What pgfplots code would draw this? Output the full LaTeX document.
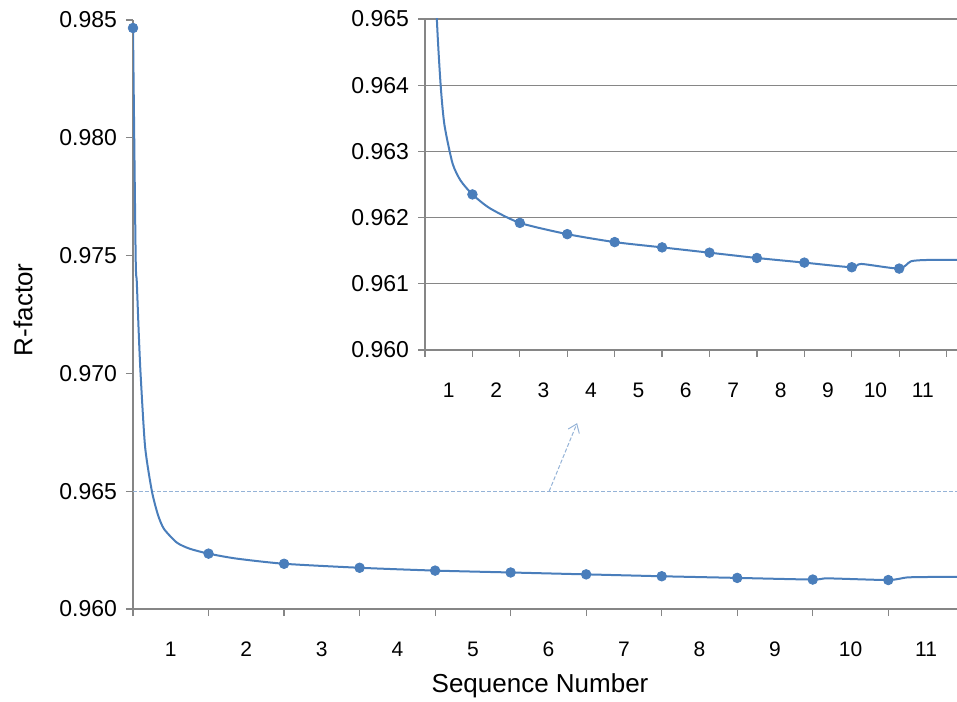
\documentclass[border=0pt]{standalone}
\usepackage{fontspec}
\setmainfont{Liberation Sans}
\usepackage{pgfplots}
\usepackage{pgfplotstable}
\pgfplotsset{compat=1.18}
\usetikzlibrary{arrows.meta}

\definecolor{rline}{RGB}{74,126,187}
\definecolor{axgray}{RGB}{134,134,134}
\definecolor{dashblue}{RGB}{149,179,215}

% curve (line only)
\pgfplotstableread{
x y
0 0.98466
0.035 0.97500
0.05 0.97390
0.075 0.97180
0.10 0.97000
0.16 0.96689
0.25 0.96500
0.33 0.96400
0.41 0.96340
0.58 0.96282
0.75 0.96256
1 0.96235
1.37 0.96214
2 0.96192
3 0.96175
4 0.96163
5 0.96155
6 0.96147
7 0.96139
8 0.96132
9 0.96125
9.2 0.96130
10 0.96123
10.25 0.96134
10.6 0.96136
11.3 0.96136
}\curvetab

% markers
\pgfplotstableread{
x y
0 0.98466
1 0.96235
2 0.96192
3 0.96175
4 0.96163
5 0.96155
6 0.96147
7 0.96139
8 0.96132
9 0.96125
10 0.96123
}\pointtab

\pgfplotsset{
  rbase/.style={
    scale only axis,
    axis x line*=bottom,
    axis y line*=left,
    axis line style={axgray, line width=0.6pt},
    tick style={axgray, line width=0.6pt},
    tick align=outside,
    major tick length=3.5pt,
    xmin=0,
    xtick={0,1,2,3,4,5,6,7,8,9,10,11},
    xticklabels={},
    extra x ticks={0.5,1.5,2.5,3.5,4.5,5.5,6.5,7.5,8.5,9.5,10.5},
    extra x tick labels={1,2,3,4,5,6,7,8,9,10,11},
    extra x tick style={major tick length=0pt},
    scaled y ticks=false,
    xticklabel style={font=\fontsize{10.5}{12}\selectfont, yshift=-13pt},
    yticklabel style={font=\fontsize{11.5}{13}\selectfont, xshift=-1pt},
    yticklabel={\pgfmathprintnumber[fixed,fixed zerofill,precision=3,assume math mode=true]{\tick}},
    clip=true,
  },
}

\begin{document}
\begin{tikzpicture}
\useasboundingbox (0,0) rectangle (478.5pt,350.5pt);

\begin{axis}[
  rbase,
  at={(66.5pt,46pt)}, anchor=south west,
  width=412pt, height=294.5pt,
  xmax=10.91,
  ymin=0.960, ymax=0.985,
  ytick={0.960,0.965,0.970,0.975,0.980,0.985},
  xlabel={Sequence Number},
  ylabel={R-factor},
  label style={font=\fontsize{13}{15}\selectfont},
  xlabel style={at={(axis description cs:0.494,0)}, anchor=center, yshift=-38.5pt},
  ylabel style={at={(axis description cs:-0.1335,0.508)}, anchor=center},
]
  \draw[dashblue, line width=0.5pt, dash pattern=on 2pt off 1pt] (axis cs:0,0.965) -- (axis cs:10.91,0.965);
  \draw[dashblue, line width=0.5pt, dash pattern=on 2pt off 1pt, -{Straight Barb[length=4pt,width=6pt]}]
    (axis cs:5.51,0.965) -- (axis cs:5.88,0.96789);
  \addplot[rline, line width=1pt, smooth, tension=0.4, no markers] table {\curvetab};
  \addplot[only marks, mark=*, mark size=2.4pt, color=rline] table {\pointtab};
\end{axis}

\begin{axis}[
  rbase,
  at={(212.5pt,175.5pt)}, anchor=south west,
  width=266pt, height=165.5pt,
  xmax=11.22,
  ymin=0.960, ymax=0.965,
  ytick={0.960,0.961,0.962,0.963,0.964,0.965},
  ymajorgrids,
  grid style={axgray, line width=0.6pt},
  axis background/.style={fill=white},
]
  \addplot[rline, line width=1pt, smooth, tension=0.4, no markers] table {\curvetab};
  \addplot[only marks, mark=*, mark size=2.4pt, color=rline] table {\pointtab};
\end{axis}
\end{tikzpicture}
\end{document}
